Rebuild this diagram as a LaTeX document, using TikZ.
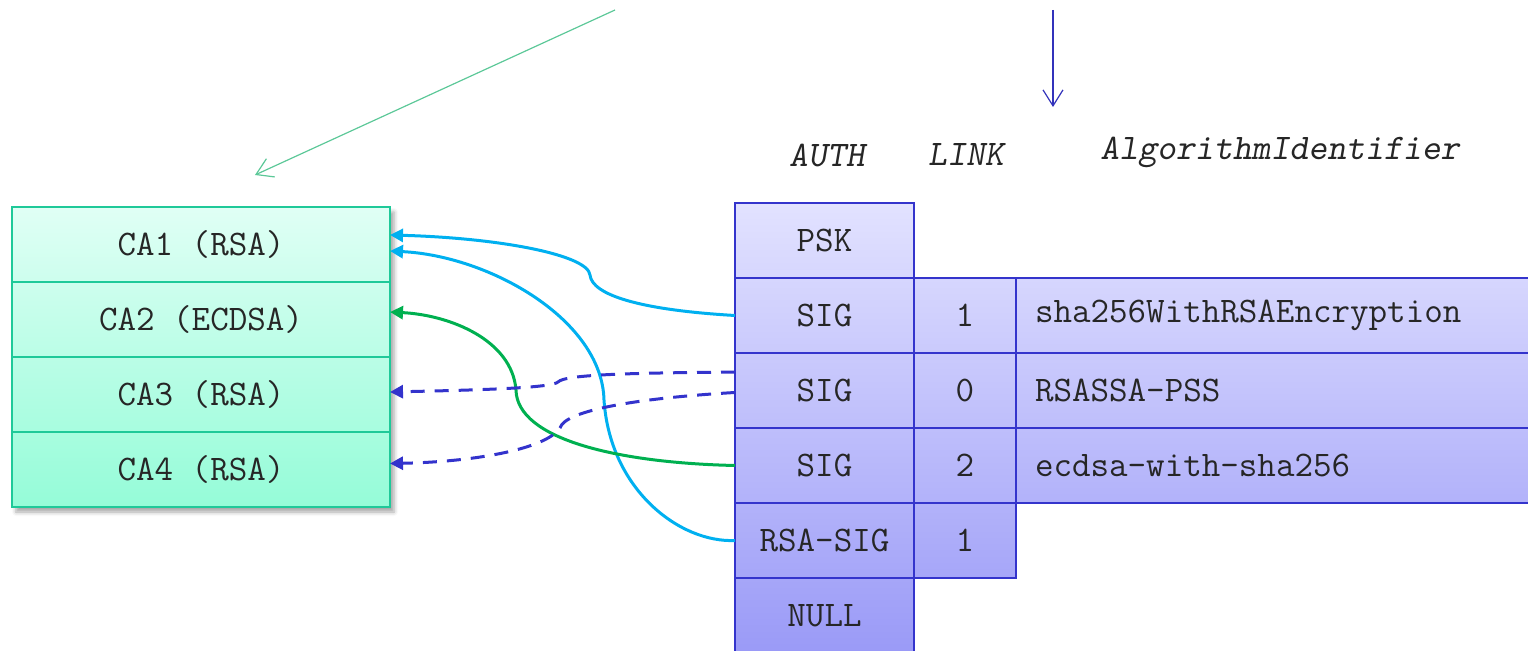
\documentclass[tikz,border=0pt]{standalone}
\usepackage{fontspec}
\usetikzlibrary{positioning,arrows.meta,shadows.blur,backgrounds}

\definecolor{caTop}{HTML}{E0FFF5}
\definecolor{caBot}{HTML}{95FCD8}
\definecolor{caLine}{HTML}{1FC999}
\definecolor{tabTop}{HTML}{E2E2FF}
\definecolor{tabBot}{HTML}{9A9AF7}
\definecolor{tabLine}{HTML}{3434CC}
\definecolor{linkCyan}{HTML}{00B0F0}
\definecolor{linkGreen}{HTML}{00B050}
\definecolor{linkBlue}{HTML}{3333CC}
\definecolor{topGreen}{HTML}{5CC898}
\definecolor{topBlue}{HTML}{3333BB}

\begin{document}
\begin{tikzpicture}[
    x=0.5pt, y=-0.5pt,
    node distance=0pt,
    txt/.style={font=\ttfamily\fontsize{18}{21}\selectfont, text=black!85},
    cell/.style={txt, draw=tabLine, line width=1pt, rectangle, inner sep=0pt, outer sep=0pt, minimum height=37.5pt},
    authcell/.style={cell, minimum width=89.5pt},
    linkcell/.style={cell, minimum width=51pt},
    algcell/.style={cell, inner xsep=9.5pt, text width=239pt, align=left},
    cabox/.style={txt, draw=caLine, line width=1pt, rectangle, inner sep=0pt, outer sep=0pt, minimum width=189pt, minimum height=37.5pt},
    head/.style={font=\ttfamily\slshape\fontsize{18}{21}\selectfont, text=black!85},
    link/.style={-{Triangle[length=6.5pt,width=6.5pt]}, line width=1.5pt},
    topline/.style={-{Straight Barb[length=8pt,width=10pt]}, line width=0.6pt}
]
\useasboundingbox (0,0) rectangle (1528,651);

% Nodes
\node[cabox] (ca1) at (201,244.5) {CA1 (RSA)};
\node[cabox, below=of ca1] (ca2) {CA2 (ECDSA)};
\node[cabox, below=of ca2] (ca3) {CA3 (RSA)};
\node[cabox, below=of ca3] (ca4) {CA4 (RSA)};

\node[authcell] (psk) at (824.5,240.5) {PSK};
\node[authcell, below=of psk] (sig1) {SIG};
\node[authcell, below=of sig1] (sig2) {SIG};
\node[authcell, below=of sig2] (sig3) {SIG};
\node[authcell, below=of sig3] (rsasig) {RSA-SIG};
\node[authcell, below=of rsasig] (nul) {NULL};

\node[linkcell, right=of sig1] (link1) {1};
\node[linkcell, right=of sig2] (link2) {0};
\node[linkcell, right=of sig3] (link3) {2};
\node[linkcell, right=of rsasig] (link4) {1};

\node[algcell, right=of link1] (alg1) {sha256WithRSAEncryption};
\node[algcell, right=of link2] (alg2) {RSASSA-PSS};
\node[algcell, right=of link3] (alg3) {ecdsa-with-sha256};

\node[head] (hauth) at (827,155) {AUTH};
\node[head] (hlink) at (966,155) {LINK};
\node[head] (halg) at (1280,152) {AlgorithmIdentifier};

\coordinate (gtail) at (615,10);
\coordinate (ghead) at (255,175);
\coordinate (btail) at (1053,10);
\coordinate (bhead) at (1053,107);

% Fills
\begin{scope}[on background layer]
\path[top color=caTop, bottom color=caBot, blur shadow={shadow xshift=2pt, shadow yshift=-2.5pt, shadow blur radius=2pt, shadow opacity=35}]
    (ca1.north west) rectangle (ca4.south east);
\shade[top color=tabTop, bottom color=tabBot]
    (psk.north west) -- (psk.north east) -- (link1.north west) -- (alg1.north east)
    -- (alg3.south east) -- (alg3.south west) -- (link4.south east) -- (nul.north east)
    -- (nul.south east) -- (nul.south west) -- cycle;
\end{scope}

% Arrows
\draw[topline, topGreen] (gtail) -- (ghead);
\draw[topline, topBlue] (btail) -- (bhead);

\draw[link, linkCyan] (sig1.west) .. controls (640,310) and (592,295) .. (590,275)
    .. controls (588,255) and (500,238) .. ([yshift=4.75pt]ca1.east);
\draw[link, linkCyan] (rsasig.west) .. controls (680,543) and (610,490) .. (604,400)
    .. controls (602,320) and (490,256) .. ([yshift=-3.25pt]ca1.east);
\draw[link, linkGreen] (sig3.west) .. controls (620,463) and (517,440) .. (516,390)
    .. controls (512,340) and (450,315) .. ([yshift=3.75pt]ca2.east);
\draw[link, linkBlue, dash pattern=on 7pt off 5pt] ([yshift=9.25pt]sig2.west)
    .. controls (640,373) and (565,374) .. (558,382)
    .. controls (552,388) and (480,390) .. ([yshift=1.25pt]ca3.east);
\draw[link, linkBlue, dash pattern=on 7pt off 5pt] ([yshift=-1pt]sig2.west)
    .. controls (640,398) and (565,410) .. (560,428)
    .. controls (545,450) and (470,462) .. ([yshift=3pt]ca4.east);

\end{tikzpicture}
\end{document}
